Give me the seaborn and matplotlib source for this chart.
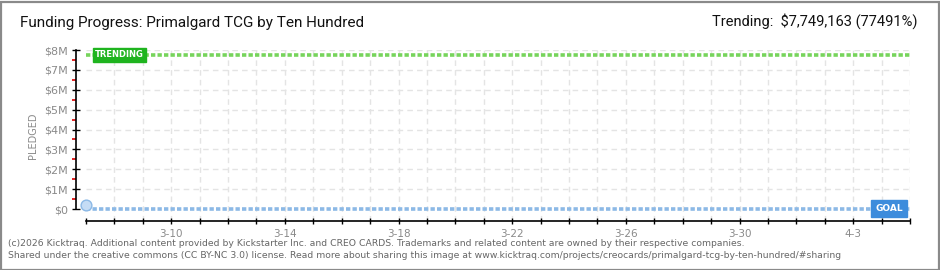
import matplotlib
matplotlib.use("Agg")
import matplotlib.pyplot as plt
import matplotlib.patches as mpatches
import seaborn as sns
import pandas as pd
import numpy as np

# ---- data ----
dates = ["3-7"]
pledged = [180000]
goal = 10000
trending = 7749163
trending_pct = "77491%"
day_labels = ["3-7", "3-8", "3-9", "3-10", "3-11", "3-12", "3-13", "3-14", "3-15", "3-16",
              "3-17", "3-18", "3-19", "3-20", "3-21", "3-22", "3-23", "3-24", "3-25", "3-26",
              "3-27", "3-28", "3-29", "3-30", "3-31", "4-1", "4-2", "4-3", "4-4", "4-5"]
shown_labels = ["3-10", "3-14", "3-18", "3-22", "3-26", "3-30", "4-3"]
y_ticks = [0, 1e6, 2e6, 3e6, 4e6, 5e6, 6e6, 7e6, 8e6]
y_labels = ["$0", "$1M", "$2M", "$3M", "$4M", "$5M", "$6M", "$7M", "$8M"]

sns.set_theme(style="white")
plt.rcParams["font.family"] = ["DejaVu Sans"]

W, H = 940, 270
fig = plt.figure(figsize=(W / 100, H / 100), dpi=100)
fig.patch.set_facecolor("white")

x0, x1 = 76, 910
y_top, y_bot = 50, 221
ax = fig.add_axes([x0 / W, 1 - y_bot / H, (x1 - x0) / W, (y_bot - y_top) / H])
ax.set_facecolor("white")

n_days = len(day_labels)
px_per_day = (x1 - 86) / (n_days - 1)
ax.set_xlim(-(86 - x0) / px_per_day, n_days - 1)
ax.set_ylim(-0.6e6, 8.0e6)
xmin_frac = (86 - x0) / (x1 - x0)

grid_kw = dict(color="#e4e4e4", lw=1, ls=(0, (4, 3)), zorder=0)
for i in range(1, n_days):
    ax.axvline(i, **grid_kw)
for v in y_ticks[1:]:
    ax.axhline(v, xmin=xmin_frac, **grid_kw)

ax.axhline(goal, xmin=xmin_frac, color="#8cb9e6", lw=2.6, ls=(0, (1.2, 0.6)), zorder=2)
ax.axhline(trending, xmin=xmin_frac, color="#77d45c", lw=2.6, ls=(0, (1.2, 0.6)), zorder=2)

df = pd.DataFrame({"day": [day_labels.index(d) for d in dates], "pledged": pledged})
sns.lineplot(data=df, x="day", y="pledged", ax=ax, color="#8cb9e6", lw=2, zorder=3)
sns.scatterplot(data=df, x="day", y="pledged", ax=ax, s=60, color="#c5dcf5",
                edgecolor="#8cb9e6", linewidth=1, zorder=4)

ax.text(0.32, trending, "TRENDING", color="white", fontsize=6, fontweight="bold",
        va="center", ha="left", zorder=5,
        bbox=dict(boxstyle="square,pad=0.3", fc="#1fb41f", ec="#1fb41f"))
ax.text(n_days - 1.25, goal, "GOAL", color="white", fontsize=6.5, fontweight="bold",
        va="center", ha="right", zorder=5,
        bbox=dict(boxstyle="square,pad=0.45", fc="#3d8cdc", ec="#3d8cdc"))

for s in ["top", "right"]:
    ax.spines[s].set_visible(False)
for s in ["left", "bottom"]:
    ax.spines[s].set_color("black")
    ax.spines[s].set_linewidth(1.2)
ax.spines["left"].set_bounds(0, 8e6)
ax.spines["bottom"].set_bounds(0, n_days - 1)

ax.set_yticks(y_ticks)
ax.set_yticklabels(y_labels)
ax.set_yticks([v + 0.5e6 for v in y_ticks[:-1]], minor=True)
ax.tick_params(axis="y", which="major", length=6, width=1, color="black", direction="inout",
               labelsize=8, labelcolor="#8a8a8a", pad=3, left=True)
ax.tick_params(axis="y", which="minor", length=3, width=1.2, color="#e00000", direction="out", left=True)

ax.set_xticks(range(n_days))
ax.set_xticklabels([d if d in shown_labels else "" for d in day_labels])
ax.tick_params(axis="x", which="major", length=5, width=1, color="black", direction="inout",
               labelsize=7.5, labelcolor="#8a8a8a", pad=3, bottom=True)
ax.set_xlabel("")
ax.set_ylabel("PLEDGED", fontsize=7, color="#8a8a8a", labelpad=4)

head_fam = ["Roboto", "DejaVu Sans"]
fig.text(20 / W, 1 - 23 / H, "Funding Progress: Primalgard TCG by Ten Hundred",
         fontsize=11, color="#111111", va="center", ha="left", family=head_fam)
fig.text(918 / W, 1 - 21 / H, "Trending:  $7,749,163 (" + trending_pct + ")",
         fontsize=10.5, color="#111111", va="center", ha="right", family=head_fam)

foot_kw = dict(fontsize=6.7, color="#666666", va="center", ha="left", family=["DejaVu Sans"])
fig.text(8 / W, 1 - 243 / H,
         "(c)2026 Kicktraq. Additional content provided by Kickstarter Inc. and CREO CARDS. Trademarks and related content are owned by their respective companies.",
         **foot_kw)
fig.text(8 / W, 1 - 256 / H,
         "Shared under the creative commons (CC BY-NC 3.0) license. Read more about sharing this image at www.kicktraq.com/projects/creocards/primalgard-tcg-by-ten-hundred/#sharing",
         **foot_kw)

fig.add_artist(mpatches.Rectangle((0.5 / W, 0.5 / H), 1 - 2 / W, 1 - 2 / H, transform=fig.transFigure,
                                  fill=False, ec="#8a8a8a", lw=1.6))

fig.savefig("out.png", dpi=100)
